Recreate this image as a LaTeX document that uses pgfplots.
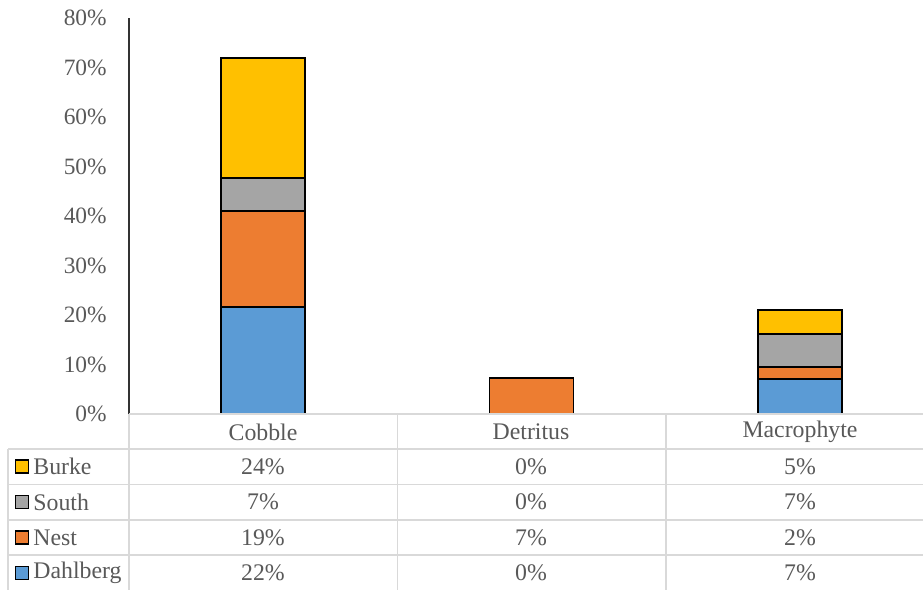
\documentclass[border=0pt]{standalone}
\usepackage{pgfplots}
\pgfplotsset{compat=1.18}
\usepackage{fontspec}
\setmainfont{Liberation Serif}
\definecolor{cDah}{HTML}{5B9BD5}
\definecolor{cNest}{HTML}{ED7D31}
\definecolor{cSouth}{HTML}{A5A5A5}
\definecolor{cBurke}{HTML}{FFC000}
\definecolor{txt}{HTML}{595959}
\definecolor{grid}{HTML}{D9D9D9}
\begin{document}
\fontsize{11.9}{14}\selectfont
\begin{tikzpicture}[x=0.5pt,y=-0.5pt]
\begin{axis}[
  at={(64.5pt,-207pt)}, anchor=south west,
  scale only axis, width=402.5pt, height=198pt,
  xmin=-0.5, xmax=2.5, ymin=0, ymax=80,
  ybar stacked, bar width=42pt,
  axis y line=left, axis x line=none,
  y axis line style={-, draw=black!80, line width=0.75pt},
  xtick=\empty,
  ytick={0,10,20,30,40,50,60,70,80},
  yticklabels={0\%,10\%,20\%,30\%,40\%,50\%,60\%,70\%,80\%},
  major tick length=0pt,
  yticklabel style={text=txt, font=\fontsize{11.7}{14}\selectfont, xshift=-7pt},
  every axis plot/.append style={draw=black, line width=0.75pt},
]
\addplot[fill=cDah] coordinates {(0,21.6) (1,0) (2,7.1)};
\addplot[fill=cNest] coordinates {(0,19.4) (1,7.3) (2,2.4)};
\addplot[fill=cSouth] coordinates {(0,6.7) (1,0) (2,6.7)};
\addplot[fill=cBurke] coordinates {(0,24.2) (1,0) (2,4.8)};
\end{axis}
% data table
\begin{scope}[draw=grid, line width=0.75pt]
\draw (129,414) -- (935,414);
\foreach \yy in {449,484.5,520,555} \draw (8,\yy) -- (935,\yy);
\draw (129,414) -- (129,592);
\draw (397.5,414) -- (397.5,592);
\draw (666,414) -- (666,592);
\draw (8,449) -- (8,592);
\end{scope}
\begin{scope}[every node/.style={text=txt, inner sep=0pt}]
\node at (263,432) {Cobble};
\node at (531,432) {Detritus};
\node at (800,432) {Macrophyte};
\foreach \nm/\col/\yy/\a/\b/\c in {Burke/cBurke/466.5/24/0/5, South/cSouth/502/7/0/7, Nest/cNest/537.5/19/7/2, Dahlberg/cDah/573/22/0/7}{
  \draw[fill=\col, draw=black, line width=0.75pt] (15.5,\yy-6.5) rectangle (28.5,\yy+6.5);
  \node[anchor=west] at (33,\yy) {\nm};
  \node at (263,\yy) {\a\%};
  \node at (531,\yy) {\b\%};
  \node at (800,\yy) {\c\%};
}
\end{scope}
\pgfresetboundingbox
\path[use as bounding box] (0,0) rectangle (923,590);
\end{tikzpicture}
\end{document}
